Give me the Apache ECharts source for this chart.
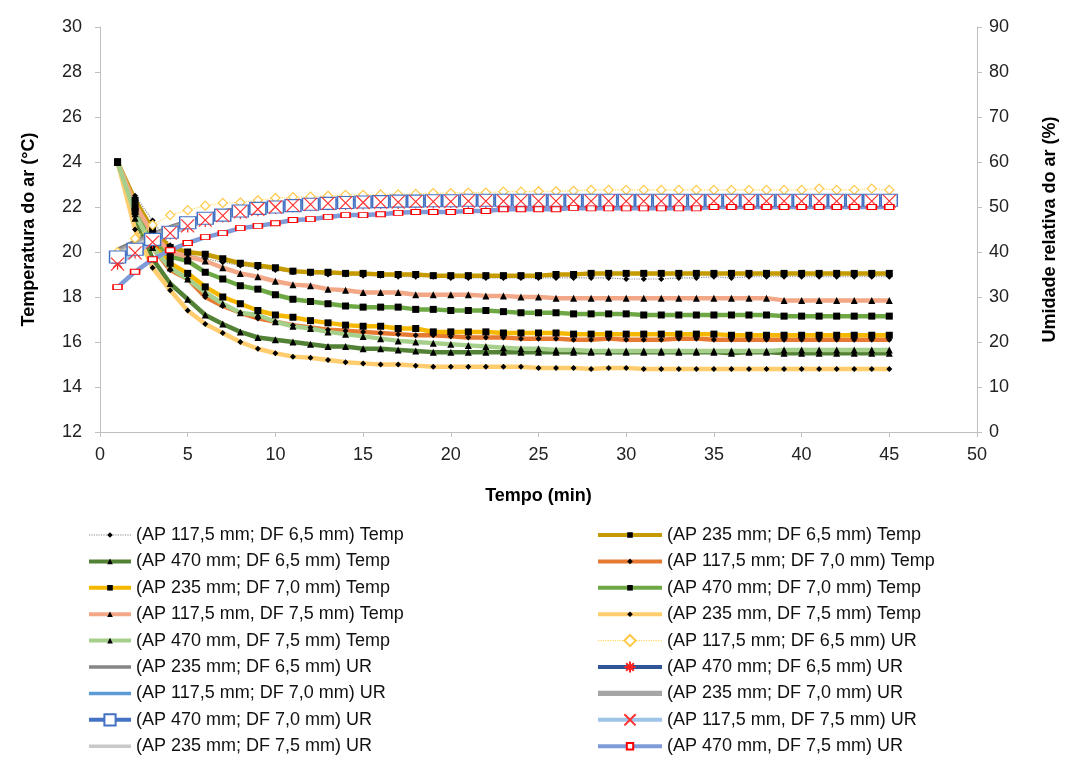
<!DOCTYPE html>
<html>
<head>
<meta charset="utf-8">
<script src="https://cdn.jsdelivr.net/npm/echarts@6/dist/echarts.min.js"></script>
<style>
  html, body { margin: 0; padding: 0; background: #fff; }
  #chart { width: 1068px; height: 764px; }
</style>
</head>
<body>
<div id="chart"></div>
<script>
// Time in minutes, 1..45
const minutes = [1,2,3,4,5,6,7,8,9,10,11,12,13,14,15,16,17,18,19,20,21,22,23,24,25,26,27,28,29,30,31,32,33,34,35,36,37,38,39,40,41,42,43,44,45];

// Air temperature (°C)
const tempAP1175DF65 = [24.0,22.5,21.4,20.3,19.9,19.7,19.55,19.4,19.3,19.2,19.1,19.05,19.0,19.0,18.95,18.95,18.9,18.9,18.9,18.85,18.85,18.85,18.85,18.85,18.85,18.85,18.85,18.85,18.85,18.8,18.8,18.8,18.85,18.85,18.9,18.85,18.9,18.9,18.9,18.9,18.9,18.9,18.9,18.9,18.9];
const tempAP235DF65 = [24.0,22.3,21.0,20.2,20.0,19.9,19.7,19.5,19.4,19.3,19.15,19.1,19.1,19.05,19.05,19.0,19.0,19.0,18.95,18.95,18.95,18.95,18.95,18.95,18.95,19.0,19.0,19.05,19.05,19.05,19.05,19.05,19.05,19.05,19.05,19.05,19.05,19.05,19.05,19.05,19.05,19.05,19.05,19.05,19.05];
const tempAP470DF65 = [24.0,21.5,19.7,18.6,17.9,17.2,16.8,16.45,16.2,16.1,16.0,15.9,15.8,15.8,15.7,15.7,15.65,15.6,15.55,15.55,15.55,15.55,15.55,15.55,15.55,15.55,15.55,15.55,15.55,15.55,15.55,15.55,15.55,15.55,15.55,15.5,15.55,15.55,15.5,15.5,15.5,15.5,15.5,15.5,15.5];
const tempAP1175DF70 = [24.0,21.9,20.2,19.2,18.8,18.0,17.6,17.3,17.05,16.9,16.75,16.65,16.55,16.5,16.45,16.4,16.35,16.3,16.3,16.25,16.2,16.2,16.2,16.15,16.15,16.15,16.1,16.1,16.15,16.1,16.1,16.1,16.15,16.15,16.1,16.1,16.1,16.1,16.1,16.1,16.1,16.1,16.1,16.1,16.1];
const tempAP235DF70 = [24.0,21.8,20.4,19.5,19.05,18.45,18.0,17.7,17.4,17.2,17.1,16.95,16.85,16.75,16.7,16.7,16.6,16.6,16.45,16.45,16.45,16.45,16.4,16.4,16.4,16.4,16.35,16.35,16.35,16.35,16.35,16.35,16.35,16.35,16.35,16.3,16.3,16.3,16.3,16.3,16.3,16.3,16.3,16.3,16.3];
const tempAP470DF70 = [24.0,22.0,20.6,19.8,19.6,19.1,18.8,18.5,18.35,18.1,17.9,17.8,17.7,17.6,17.55,17.55,17.55,17.45,17.45,17.4,17.4,17.4,17.35,17.3,17.3,17.3,17.25,17.25,17.25,17.25,17.2,17.2,17.2,17.2,17.2,17.2,17.2,17.2,17.15,17.15,17.15,17.15,17.15,17.15,17.15];
const tempAP1175DF75 = [24.0,22.1,20.8,20.0,19.8,19.6,19.3,19.05,18.9,18.7,18.55,18.5,18.35,18.3,18.2,18.2,18.2,18.1,18.1,18.1,18.1,18.05,18.05,18.0,18.0,17.95,17.95,17.95,17.95,17.95,17.95,17.95,17.95,17.95,17.95,17.95,17.95,17.95,17.85,17.85,17.85,17.85,17.85,17.85,17.85];
const tempAP235DF75 = [24.0,21.0,19.3,18.3,17.4,16.8,16.4,16.0,15.7,15.5,15.35,15.3,15.2,15.1,15.05,15.0,15.0,14.95,14.9,14.9,14.9,14.9,14.9,14.9,14.85,14.85,14.85,14.8,14.85,14.85,14.8,14.8,14.8,14.8,14.8,14.8,14.8,14.8,14.8,14.8,14.8,14.8,14.8,14.8,14.8];
const tempAP470DF75 = [24.0,21.7,20.2,19.3,18.8,18.2,17.7,17.3,17.2,16.9,16.7,16.6,16.45,16.35,16.25,16.15,16.05,16.0,15.95,15.9,15.85,15.8,15.75,15.7,15.7,15.65,15.65,15.6,15.6,15.6,15.6,15.6,15.6,15.6,15.6,15.6,15.6,15.6,15.65,15.65,15.65,15.65,15.65,15.65,15.65];

// Relative air humidity (%)
const urAP1175DF65 = [40.0,43.0,46.0,48.2,49.3,50.3,50.9,51.0,51.5,52.0,52.2,52.3,52.5,52.7,52.7,52.8,52.8,52.9,53.1,53.1,53.2,53.2,53.4,53.4,53.5,53.5,53.6,53.8,53.8,53.8,53.8,53.8,53.8,53.8,53.8,53.8,53.8,53.8,53.8,53.8,54.1,53.8,53.8,54.1,53.8];
const urAP235DF65 = [40.5,42.3,44.0,45.5,46.8,48.0,49.0,49.7,50.2,50.6,50.9,51.1,51.2,51.3,51.4,51.5,51.5,51.6,51.6,51.7,51.7,51.7,51.8,51.8,51.8,51.8,51.8,51.8,51.8,51.8,51.8,51.8,51.8,51.8,51.8,51.8,51.8,51.8,51.8,51.8,51.8,51.8,51.8,51.8,51.8];
const urAP470DF65 = [37.5,40.0,42.3,44.2,45.8,47.0,48.0,48.8,49.4,49.9,50.3,50.5,50.7,50.8,50.9,51.0,51.0,51.1,51.1,51.2,51.2,51.2,51.2,51.3,51.3,51.3,51.3,51.3,51.3,51.3,51.3,51.3,51.3,51.3,51.3,51.3,51.3,51.3,51.3,51.3,51.3,51.3,51.3,51.3,51.3];
const urAP1175DF70 = [38.5,40.5,42.5,44.3,45.8,47.0,48.0,48.7,49.3,49.7,50.0,50.3,50.5,50.6,50.7,50.8,50.8,50.9,50.9,50.9,51.0,51.0,51.0,51.0,51.0,51.0,51.0,51.0,51.0,51.0,51.0,51.0,51.0,51.0,51.0,51.0,51.0,51.0,51.0,51.0,51.0,51.0,51.0,51.0,51.0];
const urAP235DF70 = [40.0,41.8,43.6,45.2,46.5,47.6,48.5,49.2,49.8,50.2,50.5,50.7,50.9,51.0,51.1,51.2,51.3,51.3,51.4,51.4,51.4,51.5,51.5,51.5,51.5,51.5,51.5,51.5,51.5,51.5,51.5,51.5,51.5,51.5,51.5,51.5,51.5,51.5,51.5,51.5,51.5,51.5,51.5,51.5,51.5];
const urAP470DF70 = [38.9,40.6,42.8,44.4,46.5,47.5,48.2,49.1,49.7,50.0,50.3,50.6,50.8,51.0,51.1,51.2,51.3,51.3,51.4,51.4,51.5,51.5,51.5,51.5,51.5,51.5,51.5,51.5,51.5,51.5,51.5,51.5,51.5,51.5,51.5,51.5,51.5,51.5,51.5,51.5,51.5,51.5,51.5,51.5,51.5];
const urAP1175DF75 = [37.3,39.8,42.2,44.2,45.8,47.1,48.1,48.9,49.5,50.0,50.4,50.6,50.8,50.9,51.0,51.1,51.1,51.2,51.2,51.2,51.3,51.3,51.3,51.3,51.3,51.3,51.3,51.3,51.3,51.3,51.3,51.3,51.3,51.3,51.3,51.3,51.3,51.3,51.3,51.3,51.3,51.3,51.3,51.3,51.3];
const urAP235DF75 = [39.5,41.3,43.1,44.7,46.0,47.1,48.0,48.7,49.3,49.7,50.0,50.2,50.4,50.5,50.6,50.7,50.8,50.8,50.9,50.9,50.9,51.0,51.0,51.0,51.0,51.0,51.0,51.0,51.0,51.0,51.0,51.0,51.0,51.0,51.0,51.0,51.0,51.0,51.0,51.0,51.0,51.0,51.0,51.0,51.0];
const urAP470DF75 = [32.2,35.6,38.4,40.4,42.0,43.3,44.2,45.3,45.8,46.4,47.1,47.3,47.8,48.2,48.2,48.4,48.7,48.9,48.9,48.9,49.1,49.1,49.5,49.5,49.5,49.5,49.8,49.7,49.7,49.7,49.7,49.7,49.7,49.7,50.0,50.0,50.0,50.0,50.0,50.0,50.0,50.0,50.0,50.0,50.0];

// Axis ticks
const xTicks = { min: 0, max: 50, interval: 5 };
const tempTicks = { min: 12, max: 30, interval: 2 };
const urTicks = { min: 0, max: 90, interval: 10 };

const FONT = "'Liberation Sans', Arial, sans-serif";
const pairs = arr => minutes.map((m, i) => [m, arr[i]]);

const X_PATH = 'path://M0,0L10,10M10,0L0,10';
const STAR_PATH = 'path://M5,0L5,10M0,5L10,5M1.6,1.6L8.4,8.4M8.4,1.6L1.6,8.4';
// Plain bar used as the legend key of unmarked lines (kept in aspect by the legend)
const BAR_PATH = 'path://M0,0L12,0L12,1L0,1Z';

function tempSeries(name, values, color, symbol, size, dotted) {
  return {
    name, type: 'line', yAxisIndex: 0, data: pairs(values),
    showAllSymbol: true, symbol, symbolSize: size,
    lineStyle: { color, width: dotted ? 1.2 : 4.5, type: dotted ? 'dotted' : 'solid' },
    itemStyle: { color: '#000', borderColor: '#000', borderWidth: 0 },
    emphasis: { disabled: true }, animation: false
  };
}

function urSeries(name, values, color, symbol, size, mark) {
  const s = {
    name, type: 'line', yAxisIndex: 1, data: pairs(values),
    showAllSymbol: true, symbol: symbol || 'none', symbolSize: size || 0,
    lineStyle: { color, width: 4.5 },
    itemStyle: { color: color },
    emphasis: { disabled: true }, animation: false
  };
  if (mark) s.itemStyle = mark;
  return s;
}

const series = [
  tempSeries('(AP 117,5 mm; DF 6,5 mm) Temp', tempAP1175DF65, '#8C8C8C', 'diamond', 6, true),
  tempSeries('(AP 235 mm; DF 6,5 mm) Temp', tempAP235DF65, '#C59B00', 'rect', 7),
  tempSeries('(AP 470 mm; DF 6,5 mm) Temp', tempAP470DF65, '#538135', 'triangle', 7),
  tempSeries('(AP 117,5 mm; DF 7,0 mm) Temp', tempAP1175DF70, '#E67A33', 'diamond', 6),
  tempSeries('(AP 235 mm; DF 7,0 mm) Temp', tempAP235DF70, '#F5B800', 'rect', 7),
  tempSeries('(AP 470 mm; DF 7,0 mm) Temp', tempAP470DF70, '#6EA845', 'rect', 7),
  tempSeries('(AP 117,5 mm, DF 7,5 mm) Temp', tempAP1175DF75, '#F2A887', 'triangle', 7),
  tempSeries('(AP 235 mm, DF 7,5 mm) Temp', tempAP235DF75, '#FFCD6E', 'diamond', 6),
  tempSeries('(AP 470 mm, DF 7,5 mm) Temp', tempAP470DF75, '#A6CF8C', 'triangle', 7),
  Object.assign(urSeries('(AP 117,5 mm; DF 6,5 mm) UR', urAP1175DF65, '#FFE08A', 'diamond', 9,
    { color: '#fff', borderColor: '#FFC845', borderWidth: 1.2 }),
    { lineStyle: { color: '#FFD966', width: 1.2, type: 'dotted' } }),
  urSeries('(AP 235 mm; DF 6,5 mm) UR', urAP235DF65, '#858585'),
  urSeries('(AP 470 mm; DF 6,5 mm) UR', urAP470DF65, '#2F5597', STAR_PATH, 13,
    { color: 'none', borderColor: '#FF2020', borderWidth: 1.2 }),
  urSeries('(AP 117,5 mm; DF 7,0 mm) UR', urAP1175DF70, '#5B9BD5'),
  urSeries('(AP 235 mm; DF 7,0 mm) UR', urAP235DF70, '#A5A5A5'),
  urSeries('(AP 470 mm; DF 7,0 mm) UR', urAP470DF70, '#4472C4', 'rect', [16, 12],
    { color: '#fff', borderColor: '#4472C4', borderWidth: 1.3 }),
  urSeries('(AP 117,5 mm, DF 7,5 mm) UR', urAP1175DF75, '#9DC3E6', X_PATH, 13,
    { color: 'none', borderColor: '#FF3030', borderWidth: 1.2 }),
  urSeries('(AP 235 mm; DF 7,5 mm) UR', urAP235DF75, '#C9C9C9'),
  urSeries('(AP 470 mm, DF 7,5 mm) UR', urAP470DF75, '#7F9CD8', 'rect', [9, 5],
    { color: '#fff', borderColor: '#FF0000', borderWidth: 1.2 })
];

// Legend: two columns filled row by row; unmarked lines get a plain bar key
const legendItems = series.map(s => {
  if (s.symbol === 'none') return { name: s.name, icon: BAR_PATH, itemStyle: { color: s.lineStyle.color } };
  if (s.lineStyle.type === 'dotted') return { name: s.name, lineStyle: { width: 1.2 } };
  return { name: s.name };
});
const leftItems = legendItems.filter((_, i) => i % 2 === 0);
const rightItems = legendItems.filter((_, i) => i % 2 === 1);

const LEGEND_TOP = 526;
const ROW = 26.4;
function legendBlock(left, width, items, firstRow, markSize) {
  return {
    orient: 'vertical', left, top: LEGEND_TOP + firstRow * ROW, padding: 0,
    itemWidth: width, itemHeight: markSize, itemGap: 8.4,
    lineStyle: { width: 4 },
    textStyle: { fontFamily: FONT, fontSize: 18, color: '#111' },
    selectedMode: false, data: items
  };
}

const axisLineStyle = { lineStyle: { color: '#BFBFBF', width: 1 } };
const axisLabel = { fontFamily: FONT, fontSize: 18, color: '#222' };

const option = {
  backgroundColor: '#fff',
  animation: false,
  grid: { left: 100, right: 91, top: 27, bottom: 332 },
  legend: [
    legendBlock(87, 42, leftItems.slice(0, 5), 0, 7),
    legendBlock(87, 42, leftItems.slice(5), 5, 14),
    legendBlock(596, 64, rightItems.slice(0, 4), 0, 7),
    legendBlock(596, 64, rightItems.slice(4, 8), 4, 14),
    legendBlock(596, 64, rightItems.slice(8), 8, 8)
  ],
  xAxis: {
    type: 'value', min: xTicks.min, max: xTicks.max, interval: xTicks.interval,
    name: 'Tempo (min)', nameLocation: 'middle', nameGap: 55,
    nameTextStyle: { fontFamily: FONT, fontSize: 18, fontWeight: 'bold', color: '#000' },
    axisLine: axisLineStyle, axisTick: { show: true, length: 5, lineStyle: { color: '#BFBFBF' } },
    axisLabel: Object.assign({ margin: 14 }, axisLabel),
    splitLine: { show: false }
  },
  yAxis: [
    {
      type: 'value', min: tempTicks.min, max: tempTicks.max, interval: tempTicks.interval,
      name: 'Temperatura do ar (°C)', nameLocation: 'middle', nameGap: 62,
      nameTextStyle: { fontFamily: FONT, fontSize: 18, fontWeight: 'bold', color: '#000' },
      axisLine: Object.assign({ show: true }, axisLineStyle),
      axisTick: { show: true, length: 5, lineStyle: { color: '#BFBFBF' } },
      axisLabel: Object.assign({ margin: 18 }, axisLabel),
      splitLine: { show: false }
    },
    {
      type: 'value', min: urTicks.min, max: urTicks.max, interval: urTicks.interval,
      position: 'right',
      name: 'Umidade relativa do ar (%)', nameLocation: 'middle', nameGap: 64,
      nameTextStyle: { fontFamily: FONT, fontSize: 18, fontWeight: 'bold', color: '#000' },
      axisLine: Object.assign({ show: true }, axisLineStyle),
      axisTick: { show: true, length: 5, lineStyle: { color: '#BFBFBF' } },
      axisLabel: Object.assign({ margin: 12 }, axisLabel),
      splitLine: { show: false }
    }
  ],
  series
};

const chart = echarts.init(document.getElementById('chart'), null, { renderer: 'canvas' });
chart.setOption(option);
</script>
</body>
</html>
